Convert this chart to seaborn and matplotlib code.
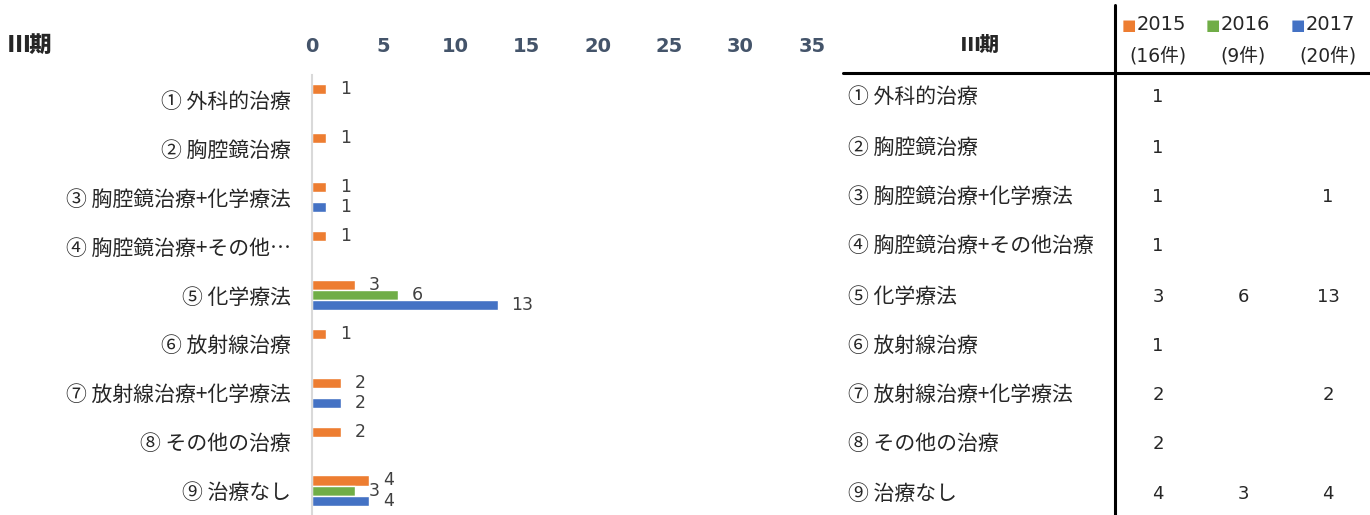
import numpy as np
import pandas as pd
import matplotlib
matplotlib.use("Agg")
import matplotlib.pyplot as plt
import seaborn as sns

# data
categories = ["① 外科的治療", "② 胸腔鏡治療", "③ 胸腔鏡治療+化学療法", "④ 胸腔鏡治療+その他治療",
              "⑤ 化学療法", "⑥ 放射線治療", "⑦ 放射線治療+化学療法", "⑧ その他の治療", "⑨ 治療なし"]
chart_labels = ["① 外科的治療", "② 胸腔鏡治療", "③ 胸腔鏡治療+化学療法", "④ 胸腔鏡治療+その他…",
                "⑤ 化学療法", "⑥ 放射線治療", "⑦ 放射線治療+化学療法", "⑧ その他の治療", "⑨ 治療なし"]
years = ["2015", "2016", "2017"]
counts = ["(16件)", "(9件)", "(20件)"]
v2015 = [1, 1, 1, 1, 3, 1, 2, 2, 4]
v2016 = [np.nan, np.nan, np.nan, np.nan, 6, np.nan, np.nan, np.nan, 3]
v2017 = [np.nan, np.nan, 1, np.nan, 13, np.nan, 2, np.nan, 4]
colors = ["#ED7D31", "#70AD47", "#4472C4"]

sns.set_style("white")
plt.rcParams['font.family'] = ['Noto Sans CJK JP', 'DejaVu Sans']
NUM = ['DejaVu Sans', 'Noto Sans CJK JP']
TXT = "#262626"

W, H = 1370, 515
fig = plt.figure(figsize=(W / 100, H / 100), dpi=100)

def px(x, y):
    return x / W, 1 - y / H

rows = []
for yr, vals in zip(years, [v2015, v2016, v2017]):
    for c, v in zip(chart_labels, vals):
        rows.append({"cat": c, "year": yr, "value": v})
df = pd.DataFrame(rows)

ax = fig.add_axes([312 / W, 0.0, 500 / W, 1 - 75 / H])
sns.barplot(data=df, y="cat", x="value", hue="year", order=chart_labels, hue_order=years,
            palette=colors, orient="h", width=0.62, ax=ax, legend=False, saturation=1, errorbar=None)

for cont in ax.containers:
    ax.bar_label(cont, fmt="%g", padding=10, fontsize=12.5, color="#404040", family=NUM)

ax.set_xlim(0, 35)
ax.set_xticks(range(0, 36, 5))
ax.xaxis.tick_top()
ax.tick_params(axis="x", length=0, pad=14, labelsize=14, labelcolor="#44546A")
for t in ax.get_xticklabels():
    t.set_fontweight("bold")
    t.set_family(NUM)
ax.tick_params(axis="y", length=0, pad=15, labelsize=15, labelcolor=TXT)
ax.set_xlabel("")
ax.set_ylabel("")
for s in ["top", "right", "bottom"]:
    ax.spines[s].set_visible(False)
ax.spines["left"].set_color("#D9D9D9")
ax.spines["left"].set_linewidth(1.5)

fig.text(*px(8, 45), "Ⅲ期", fontsize=16, fontweight="heavy", va="center", ha="left")

# table on the right
fig.text(*px(980, 45), "Ⅲ期", fontsize=14, fontweight="heavy", va="center", ha="center")
fig.add_artist(plt.Line2D([843 / W, 1.0], [1 - 73 / H] * 2, color="black", lw=2.2))
fig.add_artist(plt.Line2D([1115 / W] * 2, [1 - 5 / H, 0.0], color="black", lw=2.2))

col_x = [1158, 1243, 1328]
head_x = [1122, 1206, 1291]
for hx, cx, yr, cnt, col in zip(head_x, col_x, years, counts, colors):
    fig.text(*px(hx, 26), "■", color=col, fontsize=11, va="center", ha="left", family=NUM)
    fig.text(*px(hx + 15, 25), yr, fontsize=14, va="center", ha="left", color=TXT, family=NUM)
    fig.text(*px(cx, 56), cnt, fontsize=13.5, va="center", ha="center", color=TXT, family=NUM)

row_y = [97, 148, 197, 246, 297, 346, 395, 444, 494]
for ry, cat, a, b, c in zip(row_y, categories, v2015, v2016, v2017):
    fig.text(*px(848, ry), cat, fontsize=15, va="center", ha="left", color=TXT)
    for cx, v in zip(col_x, [a, b, c]):
        if not np.isnan(v):
            fig.text(*px(cx, ry), f"{v:g}", fontsize=13, va="center", ha="center", color=TXT, family=NUM)

fig.savefig("out.png", dpi=100)
